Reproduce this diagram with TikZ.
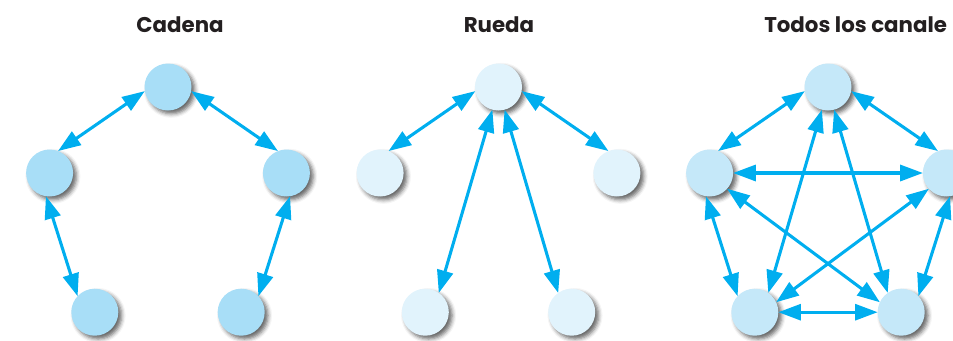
\documentclass[tikz,border=0pt]{standalone}
\usepackage{fontspec}
\setmainfont{Poppins}
\usetikzlibrary{arrows.meta,shadows.blur}
\definecolor{arrowc}{HTML}{00AEEF}
\definecolor{cA}{HTML}{A8DEF7}
\definecolor{cB}{HTML}{E1F3FC}
\definecolor{cC}{HTML}{C5E8F9}
\definecolor{titc}{HTML}{231F20}
\begin{document}
\begin{tikzpicture}[x=0.75pt,y=-0.75pt,
  nodebase/.style={circle, inner sep=0pt, outer sep=0pt, minimum size=35.25pt,
    blur shadow={shadow xshift=2.5pt, shadow yshift=-2.5pt, shadow blur radius=3pt, shadow opacity=60}},
  nA/.style={nodebase, fill=cA},
  nB/.style={nodebase, fill=cB},
  nC/.style={nodebase, fill=cC},
  link/.style={draw=arrowc, line width=2.3pt,
    {Triangle[length=17pt,width=12pt]}-{Triangle[length=17pt,width=12pt]}},
  title/.style={font=\bfseries\fontsize{16}{19}\selectfont, text=titc, anchor=base, inner sep=0pt}]
\useasboundingbox (0,0) rectangle (953,340);
\clip (0,0) rectangle (953,340);
% titles
\node[title] (tc) at (180,32) {Cadena};
\node[title] (tr) at (499,32) {Rueda};
\node[title, anchor=base west] (tt) at (764,32) {Todos los canale};
% Cadena
\node[nA] (c1) at (168,87) {};
\node[nA] (c2) at (49.6,173) {};
\node[nA] (c3) at (286.4,173) {};
\node[nA] (c4) at (94.8,312.2) {};
\node[nA] (c5) at (241.2,312.2) {};
% Rueda
\node[nB] (r1) at (498.5,87) {};
\node[nB] (r2) at (380.1,173) {};
\node[nB] (r3) at (616.9,173) {};
\node[nB] (r4) at (425.3,312.2) {};
\node[nB] (r5) at (571.7,312.2) {};
% Todos
\node[nC] (t1) at (828,87) {};
\node[nC] (t2) at (709.6,173) {};
\node[nC] (t3) at (946.4,173) {};
\node[nC] (t4) at (754.8,312.2) {};
\node[nC] (t5) at (901.2,312.2) {};
% Cadena links
\draw[link] (c1.190) -- (c2.69);
\draw[link] (c1.-10) -- (c3.111);
\draw[link] (c2.-99) -- (c4.137);
\draw[link] (c3.-81) -- (c5.43);
% Rueda links
\draw[link] (r1.190) -- (r2.69);
\draw[link] (r1.-10) -- (r3.111);
\draw[link] (r1.-105) -- (r4.55);
\draw[link] (r1.-75) -- (r5.125);
% Todos links
\draw[link] (t1.190) -- (t2.69);
\draw[link] (t1.-10) -- (t3.111);
\draw[link] (t2.-99) -- (t4.137);
\draw[link] (t3.-81) -- (t5.43);
\draw[link] (t4.0) -- (t5.180);
\draw[link] (t2.0) -- (t3.180);
\draw[link] (t1.-105) -- (t4.55);
\draw[link] (t1.-75) -- (t5.125);
\draw[link] (t2.-42) -- (t5.155);
\draw[link] (t3.-138) -- (t4.25);
\end{tikzpicture}
\end{document}
